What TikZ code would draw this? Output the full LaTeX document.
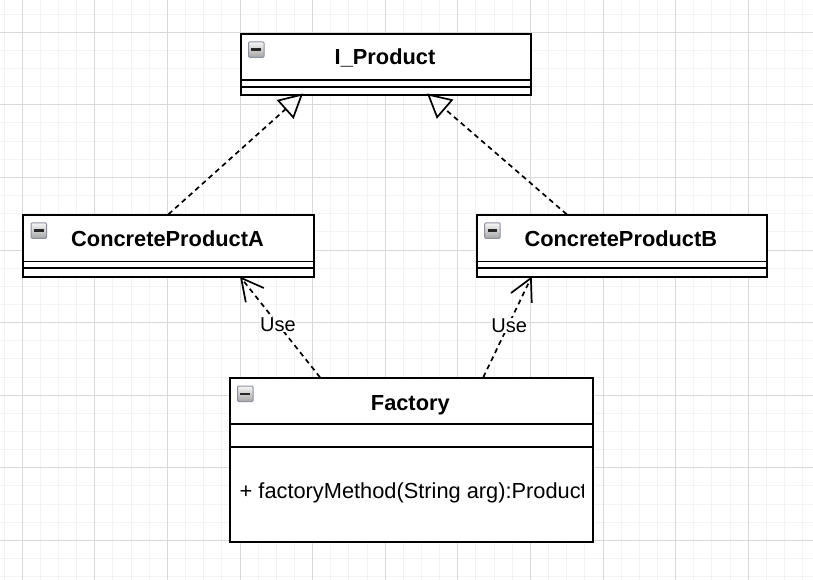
\documentclass[tikz,border=0pt]{standalone}
\usepackage{fontspec}
\setmainfont{Liberation Sans}
\usetikzlibrary{arrows.meta}
\definecolor{minorc}{HTML}{F3F3F3}
\definecolor{majorc}{HTML}{D9D9D9}
\definecolor{iconborder}{HTML}{8C8FA0}
\definecolor{icontop}{HTML}{F6F6F6}
\definecolor{iconbot}{HTML}{A6A6A6}
\begin{document}
\begin{tikzpicture}[x=1pt,y=-1pt,
  minorgrid/.style={draw=minorc, line width=1pt},
  majorgrid/.style={draw=majorc, line width=1pt},
  umlbox/.style={draw=black, fill=white, line width=1.9pt, rectangle, inner sep=0pt, anchor=north west},
  sepline/.style={draw=black, line width=1.9pt},
  title/.style={font=\fontsize{21.8}{26}\selectfont\bfseries, inner sep=0pt, anchor=base},
  member/.style={font=\fontsize{21.8}{26}\selectfont, inner sep=0pt, anchor=base west},
  realize/.style={line width=1.7pt, dash pattern=on 5pt off 4pt, -{Triangle[open, length=24pt, width=25pt, line width=1.7pt]}},
  uses/.style={line width=1.7pt, dash pattern=on 5pt off 4pt, -{Straight Barb[length=22pt, width=23pt, line width=1.7pt]}},
  lbl/.style={font=\fontsize{20}{24}\selectfont, fill=white, inner sep=0.5pt},
  collapse/.pic={
    \shade[top color=icontop, bottom color=iconbot, draw=iconborder, line width=1pt, rounded corners=1.2pt] (0,0) rectangle (15.5,15.5);
    \fill[black!85] (2.8,6.6) rectangle (12.7,8.9);
  }
]
% background and grid
\fill[white] (0,0) rectangle (813,580);
\useasboundingbox (0,0) rectangle (813,580);
\foreach \i in {0,...,44} \draw[minorgrid] ({4.05+18.15*\i},0) -- ({4.05+18.15*\i},580);
\foreach \j in {0,...,31} \draw[minorgrid] (0,{14.05+18.15*\j}) -- (813,{14.05+18.15*\j});
\foreach \i in {0,...,10} \draw[majorgrid] ({22.2+72.6*\i},0) -- ({22.2+72.6*\i},580);
\foreach \j in {0,...,7} \draw[majorgrid] (0,{32.2+72.6*\j}) -- (813,{32.2+72.6*\j});

% I_Product
\node[umlbox, minimum width=290pt, minimum height=61pt] (iprod) at (240,33.3) {};
\draw[sepline] ([yshift=-47pt]iprod.north west) -- ([yshift=-47pt]iprod.north east);
\draw[sepline] ([yshift=-54pt]iprod.north west) -- ([yshift=-54pt]iprod.north east);
\pic at ([xshift=8.5pt,yshift=-8.5pt]iprod.north west) {collapse};
\node[title] (iprodT) at (385,65) {I\_Product};

% ConcreteProductA
\node[umlbox, minimum width=290.4pt, minimum height=61.4pt] (cpa) at (22.3,214.3) {};
\draw[sepline] ([yshift=-47.2pt]cpa.north west) -- ([yshift=-47.2pt]cpa.north east);
\draw[sepline] ([yshift=-54pt]cpa.north west) -- ([yshift=-54pt]cpa.north east);
\pic at ([xshift=8.7pt,yshift=-8.5pt]cpa.north west) {collapse};
\node[title] (cpaT) at (167.5,246.7) {ConcreteProductA};

% ConcreteProductB
\node[umlbox, minimum width=289.7pt, minimum height=61.4pt] (cpb) at (476,214.3) {};
\draw[sepline] ([yshift=-47.2pt]cpb.north west) -- ([yshift=-47.2pt]cpb.north east);
\draw[sepline] ([yshift=-54pt]cpb.north west) -- ([yshift=-54pt]cpb.north east);
\pic at ([xshift=8.7pt,yshift=-8.5pt]cpb.north west) {collapse};
\node[title] (cpbT) at (620.8,246.7) {ConcreteProductB};

% Factory
\node[umlbox, minimum width=362.7pt, minimum height=163.4pt] (fac) at (229,377.3) {};
\draw[sepline] ([yshift=-47pt]fac.north west) -- ([yshift=-47pt]fac.north east);
\draw[sepline] ([yshift=-69.4pt]fac.north west) -- ([yshift=-69.4pt]fac.north east);
\pic at ([xshift=8.5pt,yshift=-8.7pt]fac.north west) {collapse};
\node[title] (facT) at (410.3,410) {Factory};
\begin{scope}
  \clip (229,377.3) rectangle (583,540.7);
  \node[member] (facM) at (239.5,498.3) {+ factoryMethod(String arg):Product};
\end{scope}

% connectors
\coordinate (iA) at (303,93.5);
\coordinate (iB) at (427,93.5);
\coordinate (bS) at (566.7,214.3);
\draw[realize] (cpa.north) -- (iA);
\draw[realize] (bS) -- (iB);

\coordinate (fA) at (320,377.3);
\coordinate (aT) at (240,276.5);
\coordinate (fB) at (483.3,377.3);
\coordinate (bT) at (531.7,276.5);
\draw[uses] (fA) -- node[lbl, pos=0.526] (useA) {Use} (aT);
\draw[uses] (fB) -- node[lbl, pos=0.51, xshift=1.2pt] (useB) {Use} (bT);
\end{tikzpicture}
\end{document}
